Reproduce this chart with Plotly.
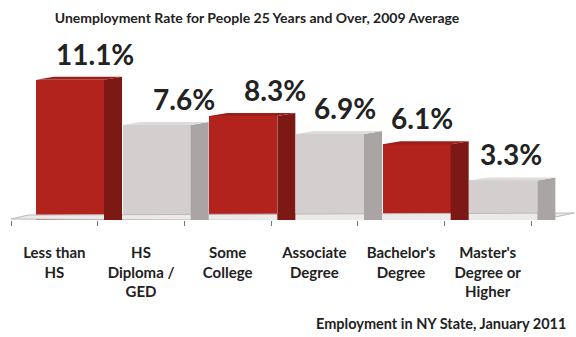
import plotly.graph_objects as go

# ---- data ----
categories = ["Less than<br>HS", "HS<br>Diploma /<br>GED", "Some<br>College",
              "Associate<br>Degree", "Bachelor's<br>Degree", "Master's<br>Degree or<br>Higher"]
values = [11.1, 7.6, 8.3, 6.9, 6.1, 3.3]
value_labels = ["11.1%", "7.6%", "8.3%", "6.9%", "6.1%", "3.3%"]

title_text = "Unemployment Rate for People 25 Years and Over, 2009 Average"
note_text = "Employment in NY State, January 2011"

# ---- style ----
FONT = "Lato"
front_cols = ["#B3231E", "#D4CECE"] * 3
side_cols = ["#7C1915", "#ABA4A4"] * 3
top_cols = ["#9C1F1A", "#E0DCDC"] * 3
label_xshift_px = [41, 43, 47, 31, 21, 23]   # label nudges (pixels) from category centre

W, H = 576, 337
px_per_x = 86.67          # pixels per category
px_per_y = 12.9           # pixels per percentage point
zero_px = 223             # pixel row of zero value
axis_px = 220             # pixel row of plot bottom
x_lo = -0.5 - 11 / px_per_x
x_hi = x_lo + W / px_per_x
y_lo = (zero_px - axis_px) / px_per_y
y_hi = zero_px / px_per_y

bar_off = 25 / px_per_x - 0.5
bar_w = 68 / px_per_x
dx = 18 / px_per_x
dy = 3 / px_per_y

def ypx(p):
    return (zero_px - p) / px_per_y

fig = go.Figure()

# floor (decorative plane)
n = len(categories)
fig.add_trace(go.Scatter(
    x=[-0.5, n - 0.5, n - 0.5 + 0.5, -0.5 + 0.2, -0.5],
    y=[ypx(219), ypx(222), ypx(213), ypx(215), ypx(219)],
    fill="toself", fillcolor="#ECE9E9", mode="lines",
    line=dict(color="#BDB9B9", width=1), hoverinfo="skip", showlegend=False))

xs = list(range(n))
# 3D side and top faces computed from the values
for i, v in zip(xs, values):
    xl = i + bar_off
    xr = xl + bar_w
    fig.add_trace(go.Scatter(
        x=[xr, xr, xr + dx, xr + dx, xr], y=[0, v, v + dy, dy, 0],
        fill="toself", fillcolor=side_cols[i], mode="lines",
        line=dict(width=0, color=side_cols[i]), hoverinfo="skip", showlegend=False))
    fig.add_trace(go.Scatter(
        x=[xl, xr, xr + dx, xl + dx, xl], y=[v, v, v + dy, v + dy, v],
        fill="toself", fillcolor=top_cols[i], mode="lines",
        line=dict(width=0, color=top_cols[i]), hoverinfo="skip", showlegend=False))

fig.add_trace(go.Bar(
    x=xs, y=values, width=bar_w, offset=bar_off,
    marker=dict(color=front_cols, line=dict(width=0)),
    hoverinfo="skip", showlegend=False))

for i, (v, t) in enumerate(zip(values, value_labels)):
    fig.add_annotation(x=i, y=v, text=t, showarrow=False,
                       xanchor="center", yanchor="bottom",
                       xshift=label_xshift_px[i], yshift=7,
                       font=dict(family=FONT, size=28, color="#222222", weight="bold"))

fig.add_annotation(x=568 / W, y=(axis_px - 323) / axis_px, xref="paper", yref="paper",
                   xanchor="right", yanchor="middle", text=note_text, showarrow=False,
                   font=dict(family=FONT, size=14.5, color="#222222", weight="bold"))

fig.update_layout(
    width=W, height=H,
    margin=dict(l=0, r=0, t=0, b=H - axis_px, pad=0),
    paper_bgcolor="white", plot_bgcolor="white",
    bargap=0,
    title=dict(text=title_text, x=257 / W, xanchor="center", y=1 - 18 / H, yanchor="middle",
               yref="container",
               font=dict(family=FONT, size=14, color="#222222", weight="bold")),
    xaxis=dict(range=[x_lo, x_hi], tickmode="array", tickvals=xs, ticktext=categories,
               ticks="", showgrid=False, zeroline=False, showline=False,
               ticklabelstandoff=22,
               tickfont=dict(family=FONT, size=15, color="#222222", weight="bold"),
               minor=dict(tickmode="linear", tick0=-0.5, dtick=1, ticks="outside",
                          ticklen=5, tickcolor="#777777", tickwidth=1, showgrid=False)),
    yaxis=dict(range=[y_lo, y_hi], visible=False),
)

fig.write_html("out.html")
